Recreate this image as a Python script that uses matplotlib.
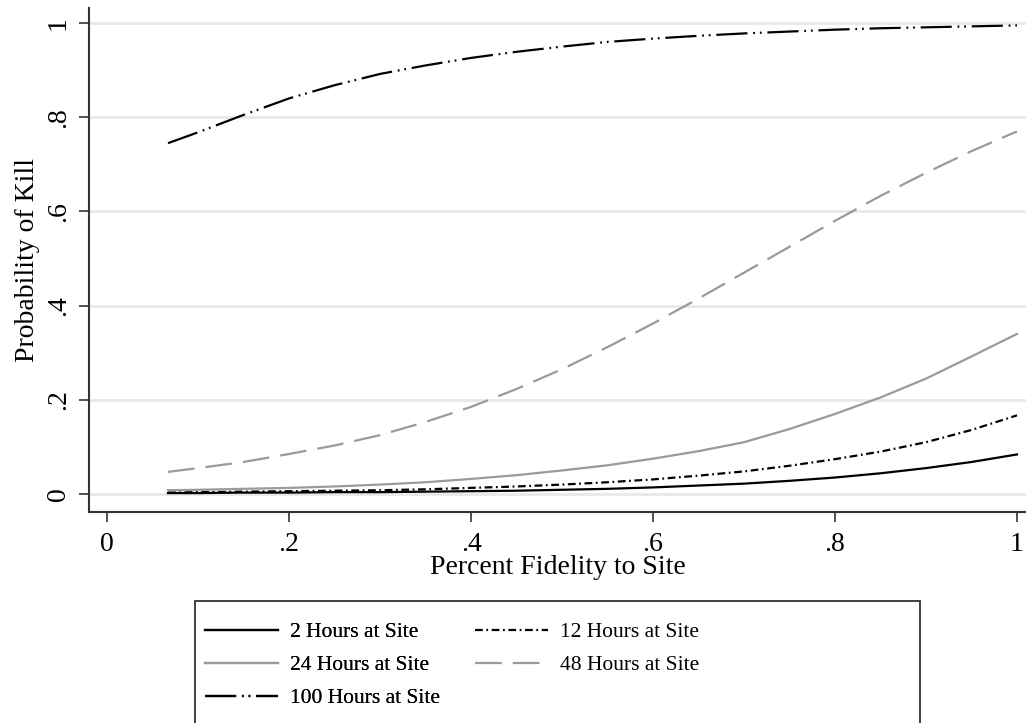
import matplotlib
matplotlib.use("Agg")
import matplotlib.pyplot as plt
from matplotlib.patches import Rectangle

plt.rcParams['font.family'] = ['Liberation Serif', 'DejaVu Serif']

fidelity = [0.067, 0.1, 0.15, 0.2, 0.25, 0.3, 0.35, 0.4, 0.45, 0.5, 0.55, 0.6,
            0.65, 0.7, 0.75, 0.8, 0.85, 0.9, 0.95, 1.0]
hours_2 = [0.002, 0.002, 0.003, 0.003, 0.004, 0.004, 0.005, 0.006, 0.007, 0.009, 0.011, 0.014,
           0.018, 0.022, 0.028, 0.035, 0.044, 0.055, 0.068, 0.084]
hours_12 = [0.003, 0.004, 0.005, 0.006, 0.007, 0.008, 0.010, 0.013, 0.016, 0.020, 0.025, 0.031,
            0.039, 0.048, 0.060, 0.074, 0.090, 0.110, 0.136, 0.167]
hours_24 = [0.008, 0.009, 0.011, 0.013, 0.016, 0.020, 0.025, 0.032, 0.040, 0.050, 0.061, 0.075,
            0.091, 0.110, 0.138, 0.170, 0.205, 0.245, 0.292, 0.340]
hours_48 = [0.047, 0.055, 0.068, 0.085, 0.103, 0.125, 0.153, 0.185, 0.223, 0.265, 0.312, 0.362,
            0.415, 0.470, 0.525, 0.580, 0.633, 0.682, 0.728, 0.770]
hours_100 = [0.745, 0.768, 0.805, 0.840, 0.868, 0.892, 0.910, 0.926, 0.939, 0.950, 0.960, 0.967,
             0.973, 0.978, 0.982, 0.986, 0.989, 0.991, 0.993, 0.995]
series_labels = ["2 Hours at Site", "12 Hours at Site", "24 Hours at Site",
                 "48 Hours at Site", "100 Hours at Site"]
x_ticks = [0, 0.2, 0.4, 0.6, 0.8, 1.0]
x_ticklabels = ["0", ".2", ".4", ".6", ".8", "1"]
y_ticks = [0, 0.2, 0.4, 0.6, 0.8, 1.0]
y_ticklabels = ["0", ".2", ".4", ".6", ".8", "1"]

W, H = 1026, 723
fig = plt.figure(figsize=(W / 100, H / 100), dpi=100)
ax = fig.add_axes([89 / W, 1 - 512 / H, 1 - 89 / W, (512 - 8) / H])

gray = "#9a9a9a"
lw = 1.6
styles = [
    dict(color="black", linestyle="-"),
    dict(color="black", linestyle=(0, (3.5, 1.6, 0.8, 1.6))),
    dict(color=gray, linestyle="-"),
    dict(color=gray, linestyle=(0, (12, 5))),
    dict(color="black", linestyle=(0, (14, 2.6, 0.8, 2.2, 0.8, 2.6))),
]
series = [hours_2, hours_12, hours_24, hours_48, hours_100]
handles = []
for vals, st, lab in zip(series, styles, series_labels):
    h, = ax.plot(fidelity, vals, linewidth=lw, label=lab, **st)
    handles.append(h)

ax.set_xlim(-0.0198, 1.0099)
ax.set_ylim(-0.0382, 1.032)
ax.set_xticks(x_ticks)
ax.set_xticklabels(x_ticklabels)
ax.set_yticks(y_ticks)
ax.set_yticklabels(y_ticklabels, rotation=90, va="center")
ax.grid(axis="y", color="#e8e8e8", linewidth=2)
ax.set_axisbelow(True)
for s in ["top", "right"]:
    ax.spines[s].set_visible(False)
for s in ["left", "bottom"]:
    ax.spines[s].set_color("#333333")
    ax.spines[s].set_linewidth(1.5)
ax.tick_params(axis="both", direction="out", length=7.2, width=1.2, color="#333333",
               labelsize=20)
ax.tick_params(axis="x", pad=7)
ax.tick_params(axis="y", pad=6)
ax.set_xlabel("Percent Fidelity to Site", fontsize=20, labelpad=-1)
ax.set_ylabel("Probability of Kill", fontsize=20, labelpad=4)

# legend box
fig.patches.append(Rectangle((195 / W, -0.05), (920 - 195) / W, (H - 601) / H + 0.05,
                             transform=fig.transFigure, facecolor="white",
                             edgecolor="#333333", linewidth=1.3))
leg_kw = dict(loc="upper left", frameon=False, fontsize=15.5, handlelength=3.4,
              handletextpad=0.55, labelspacing=0.6, borderaxespad=0, borderpad=0)
col1 = [0, 2, 4]
col2 = [1, 3]
leg1 = fig.legend([handles[i] for i in col1], [series_labels[i] for i in col1],
                  bbox_to_anchor=(205 / W, 1 - 622 / H), **leg_kw)
fig.add_artist(leg1)
leg2 = fig.legend([handles[i] for i in col2], [series_labels[i] for i in col2],
                  bbox_to_anchor=(475 / W, 1 - 622 / H), **leg_kw)
plt.savefig("out.png", dpi=100)
